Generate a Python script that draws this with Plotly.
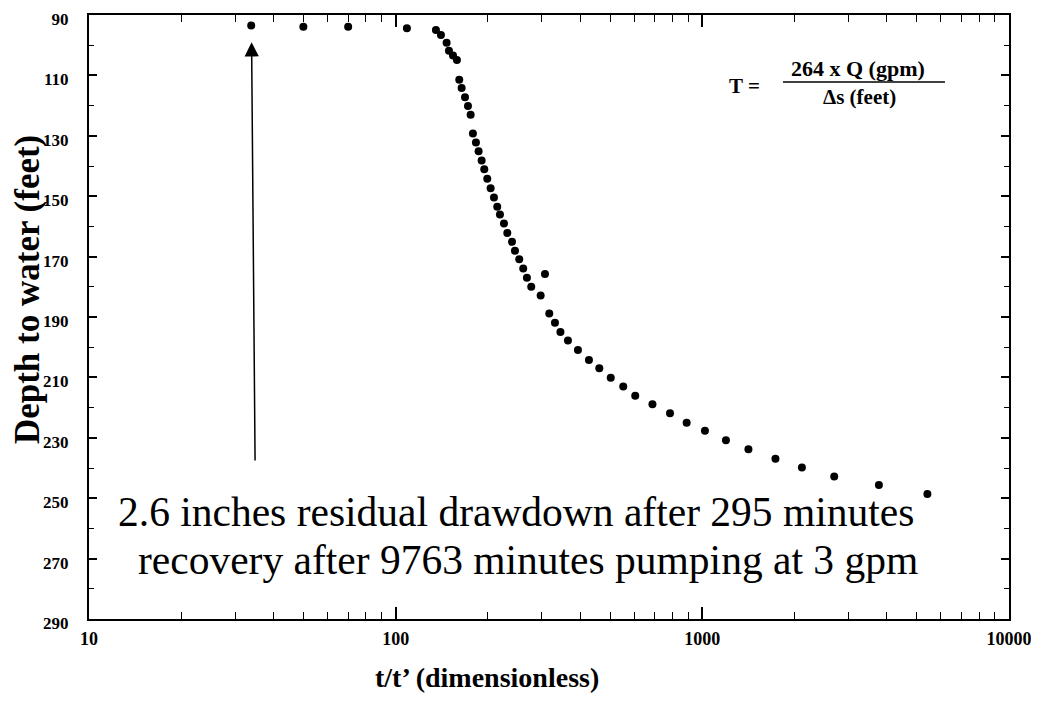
import math
import plotly.graph_objects as go

# t/t' (dimensionless) and depth to water (feet)
ratio_t = [33.8, 50.0, 70.0, 108.8, 135.3, 140.5, 146.6, 149.2, 153.8, 158.4,
           161.2, 164.1, 168.3, 172.1, 175.6, 178.6, 182.7, 186.4, 190.7, 194.5,
           198.9, 204.0, 209.2, 214.4, 218.8, 225.5, 231.2, 239.5, 244.9, 252.9,
           260.6, 267.9, 276.7, 297.0, 306.8, 316.9, 330.7, 344.6, 364.6, 393.0,
           426.8, 461.3, 502.7, 552.2, 604.2, 687.6, 784.5, 888.9, 1019.7, 1193.9,
           1413.5, 1731.5, 2112, 2692, 3765, 5419]
depth = [93.5, 93.9, 93.9, 94.4, 95.0, 96.6, 99.2, 101.8, 103.4, 104.9,
         111.4, 114.2, 117.2, 120.1, 123.0, 129.2, 132.2, 135.1, 138.2, 141.1,
         144.2, 147.4, 150.4, 153.5, 156.1, 159.0, 162.2, 165.1, 168.1, 170.9,
         173.9, 177.0, 180.0, 182.9, 175.8, 188.8, 191.9, 195.0, 197.8, 200.9,
         204.2, 207.0, 210.1, 213.0, 216.1, 218.9, 221.9, 225.0, 227.7, 230.8,
         233.8, 236.9, 239.8, 242.8, 245.6, 248.6]

x_major = [10, 100, 1000, 10000]
x_major_text = ["10", "100", "1000", "10000"]
x_minor = [m * d for d in (10, 100, 1000) for m in range(2, 10)]
y_range = [290, 90]

arrow_tip = (33.9, 99.0)
arrow_tail = (34.8, 238.0)

note_line1 = "2.6 inches residual drawdown after 295 minutes"
note_line2 = "recovery after 9763 minutes pumping at 3 gpm"
formula_lhs = "T ="
formula_num = "264 x Q (gpm)"
formula_den = "\u0394s (feet)"
x_title = "t/t\u2019 (dimensionless)"
y_title = "Depth to water (feet)"

SERIF = "Liberation Serif, Times New Roman, serif"

fig = go.Figure()
fig.add_trace(go.Scatter(
    x=ratio_t, y=depth, mode="markers",
    marker=dict(color="black", size=8, line=dict(width=0)),
    hoverinfo="skip"))

# page body adds an 8px offset, so the figure is 8px smaller than the window
fig.update_layout(
    width=1031, height=696,
    margin=dict(l=81, r=30, t=7, b=85, autoexpand=False),
    plot_bgcolor="white", paper_bgcolor="white",
    showlegend=False,
    font=dict(family=SERIF, color="black"),
)

fig.update_xaxes(
    type="log", range=[1, 4], automargin=False,
    showline=True, linecolor="black", linewidth=2, mirror="ticks",
    showgrid=False, zeroline=False,
    ticks="inside", ticklen=12, tickwidth=1.5, tickcolor="black",
    tickmode="array", tickvals=x_major, ticktext=x_major_text,
    tickfont=dict(family=SERIF, size=18, color="black", weight="bold"),
    ticklabelstandoff=2, ticklabeloverflow="allow",
    minor=dict(ticks="inside", ticklen=7, tickwidth=1.2, tickcolor="black",
               tickmode="array", tickvals=x_minor, showgrid=False),
)
fig.update_yaxes(
    range=y_range, automargin=False,
    showline=True, linecolor="black", linewidth=2, mirror="ticks",
    showgrid=False, zeroline=False,
    ticks="inside", ticklen=8, tickwidth=1.5, tickcolor="black",
    tick0=90, dtick=20,
    tickfont=dict(family=SERIF, size=17, color="black", weight="bold"),
    ticklabelstandoff=15, ticklabelshift=-4, ticklabeloverflow="allow",
    minor=dict(ticks="inside", ticklen=5, tickwidth=1.2, tickcolor="black",
               tick0=90, dtick=10, showgrid=False),
)

annotations = [
    # arrow
    dict(x=math.log10(arrow_tip[0]), y=arrow_tip[1], xref="x", yref="y",
         ax=math.log10(arrow_tail[0]), ay=arrow_tail[1], axref="x", ayref="y",
         text="", showarrow=True, arrowhead=2, arrowsize=1.9, arrowwidth=1.5,
         arrowcolor="black", standoff=0, startstandoff=0),
    # notes
    dict(x=0.464, y=0.138, xref="paper", yref="paper", text=note_line1,
         showarrow=False, xanchor="center", yanchor="bottom", borderpad=0,
         font=dict(family=SERIF, size=41.5, color="black")),
    dict(x=0.477, y=0.138, xref="paper", yref="paper", text=note_line2,
         showarrow=False, xanchor="center", yanchor="top", borderpad=0,
         font=dict(family=SERIF, size=41.5, color="black")),
    # formula
    dict(x=0.713, y=0.883, xref="paper", yref="paper", text=formula_lhs,
         showarrow=False, xanchor="center", yanchor="middle",
         font=dict(family=SERIF, size=21, color="black", weight="bold")),
    dict(x=0.836, y=0.9106, xref="paper", yref="paper", text=formula_num,
         showarrow=False, xanchor="center", yanchor="middle", borderpad=0,
         font=dict(family=SERIF, size=22, color="black", weight="bold")),
    dict(x=0.838, y=0.864, xref="paper", yref="paper", text=formula_den,
         showarrow=False, xanchor="center", yanchor="middle", borderpad=0,
         font=dict(family=SERIF, size=21, color="black", weight="bold")),
    # axis titles
    dict(x=0.433, y=-0.097, xref="paper", yref="paper", text=x_title,
         showarrow=False, xanchor="center", yanchor="middle",
         font=dict(family=SERIF, size=28, color="black", weight="bold")),
    dict(x=-0.066, y=0.545, xref="paper", yref="paper", text=y_title,
         showarrow=False, xanchor="center", yanchor="middle", textangle=-90,
         font=dict(family=SERIF, size=35, color="black", weight="bold")),
]
fig.update_layout(annotations=annotations)

fig.add_shape(type="line", xref="paper", yref="paper",
              x0=0.7543, x1=0.9304, y0=0.889, y1=0.889,
              line=dict(color="black", width=1.5))

fig.write_html("out.html")
